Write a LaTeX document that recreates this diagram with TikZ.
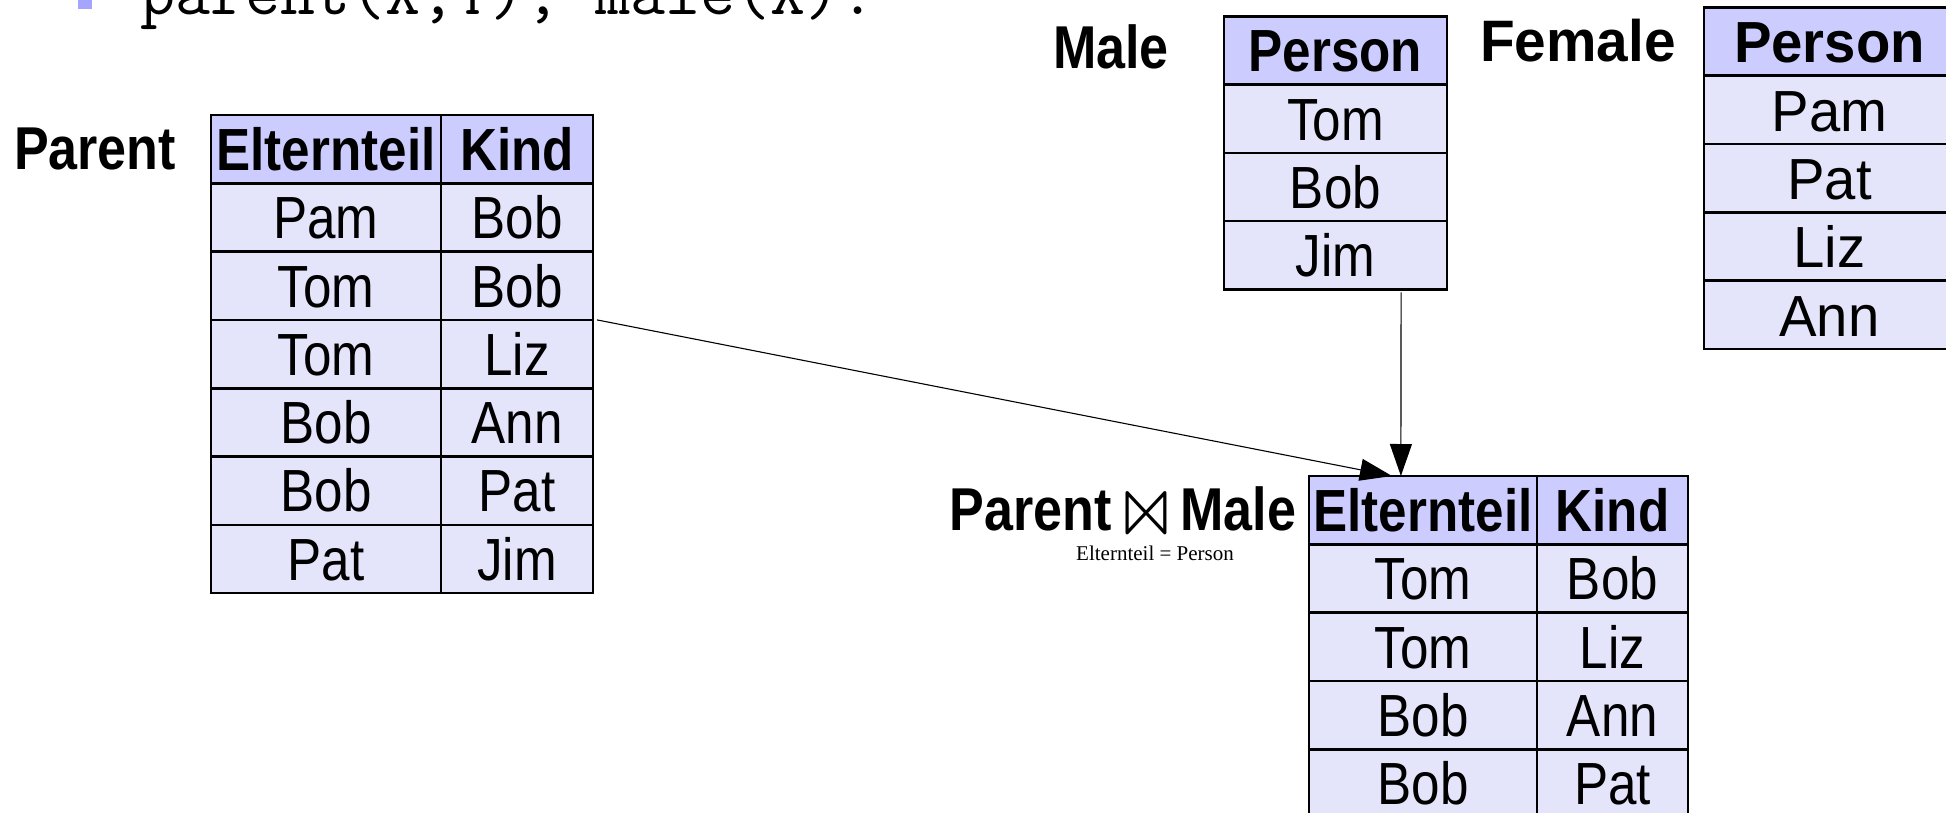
\documentclass[tikz,border=0pt]{standalone}
\usepackage{fontspec}
\usepackage{graphicx}
\usetikzlibrary{arrows.meta,calc}
\setmainfont{Liberation Sans}
\newfontfamily\sqsans[FakeStretch=0.86]{Liberation Sans}
\newfontfamily\wdsans[FakeStretch=0.97]{Liberation Sans}
\newfontfamily\condfont{Liberation Serif}
\newfontfamily\lmmath{latinmodern-math.otf}
\definecolor{hdr}{RGB}{204,204,255}
\definecolor{cellc}{RGB}{228,228,251}
\definecolor{bul}{RGB}{165,165,255}
\newcommand{\bowtiesym}{\raisebox{-4pt}{\resizebox{50pt}{43pt}{\lmmath\fontsize{54}{54}\selectfont ⋈}}}
\tikzset{
  tcell/.style={draw=black, line width=2.6pt, inner sep=0pt, outer sep=0pt,
    anchor=north west, minimum height=68.3pt, text height=42.5pt, text depth=0pt},
  hcell/.style={tcell, fill=hdr, font=\sqsans\bfseries\fontsize{59.5}{60}\selectfont},
  bcell/.style={tcell, fill=cellc, font=\sqsans\fontsize{59.5}{60}\selectfont},
  hcellw/.style={tcell, fill=hdr, font=\wdsans\bfseries\fontsize{58}{60}\selectfont},
  bcellw/.style={tcell, fill=cellc, font=\wdsans\fontsize{58}{60}\selectfont},
  lab/.style={inner sep=0pt, outer sep=0pt, font=\sqsans\bfseries\fontsize{60.5}{60}\selectfont},
  labw/.style={inner sep=0pt, outer sep=0pt, font=\wdsans\bfseries\fontsize{58.5}{60}\selectfont},
  codetxt/.style={inner sep=0pt, outer sep=0pt, font=\ttfamily\fontsize{68}{68}\selectfont},
  condtxt/.style={inner sep=0pt, outer sep=0pt, font=\condfont\fontsize{21}{21}\selectfont},
  conn/.style={draw=black, line width=1.1pt, -{Triangle[length=32pt,width=22pt]}}
}
\begin{document}
\begin{tikzpicture}[x=1pt,y=-1pt]
\useasboundingbox (0,0) rectangle (1946,813);
\clip (0,0) rectangle (1946,813);

% top code line
\node[fill=bul, minimum width=14pt, minimum height=14pt, inner sep=0pt, outer sep=0pt] (bullet) at (85,2) {};
\node[codetxt, anchor=base west] (code) at (140,15) {parent(X,Y), male(X).};

% Parent relation
\node[lab, anchor=base west] (lblParent) at (14,170) {Parent};
\node[hcell, minimum width=230pt] (P-0-1) at (211,115) {Elternteil};
\node[hcell, minimum width=152pt] (P-0-2) at (441,115) {Kind};
\foreach \a/\b [count=\r] in {Pam/Bob,Tom/Bob,Tom/Liz,Bob/Ann,Bob/Pat,Pat/Jim}{
  \node[bcell, minimum width=230pt] (P-\r-1) at (211,115+68.3*\r) {\a};
  \node[bcell, minimum width=152pt] (P-\r-2) at (441,115+68.3*\r) {\b};
}

% Male relation
\node[lab, anchor=base west] (lblMale) at (1053,69) {Male};
\node[hcell, minimum width=223pt] (M-0) at (1224,16.5) {Person};
\foreach \a [count=\r] in {Tom,Bob,Jim}{
  \node[bcell, minimum width=223pt] (M-\r) at (1224,16.5+68.2*\r) {\a};
}

% Female relation
\node[labw, anchor=base west] (lblFemale) at (1480,62) {Female};
\node[hcellw, minimum width=251pt] (F-0) at (1704,7.5) {Person};
\foreach \a [count=\r] in {Pam,Pat,Liz,Ann}{
  \node[bcellw, minimum width=251pt] (F-\r) at (1704,7.5+68.3*\r) {\a};
}

% Join result
\node[lab, anchor=base west] (lblJoin) at (949.5,530) {Parent\hspace{10pt}\bowtiesym\hspace{9pt}Male};
\node[condtxt, anchor=base] (lblCond) at (1155,560) {Elternteil = Person};
\node[hcell, minimum width=228pt] (R-0-1) at (1309,476) {Elternteil};
\node[hcell, minimum width=151pt] (R-0-2) at (1537,476) {Kind};
\foreach \a/\b [count=\r] in {Tom/Bob,Tom/Liz,Bob/Ann,Bob/Pat}{
  \node[bcell, minimum width=228pt] (R-\r-1) at (1309,476+68.3*\r) {\a};
  \node[bcell, minimum width=151pt] (R-\r-2) at (1537,476+68.3*\r) {\b};
}

% connectors
\draw[conn] ($(P-2-2.south east)+(4,0)$) -- ($(R-0-1.north west)!0.364!(R-0-1.north east)$);
\draw[conn] ($(M-3.south west)!0.794!(M-3.south east)+(0,3)$) -- ($(R-0-1.north west)!0.403!(R-0-1.north east)$);
\end{tikzpicture}
\end{document}
